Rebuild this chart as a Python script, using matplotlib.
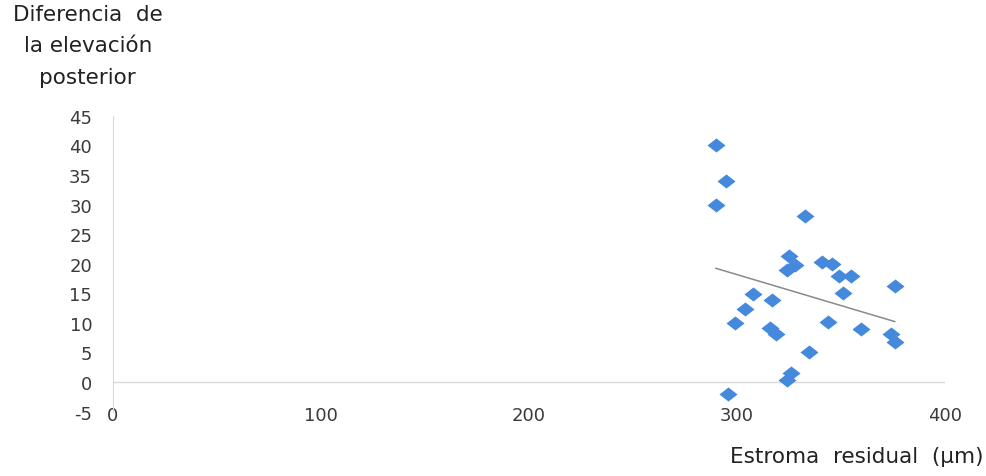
import numpy as np
import matplotlib
matplotlib.use("Agg")
import matplotlib.pyplot as plt
from matplotlib.path import Path

# Estroma residual (um) vs diferencia de la elevacion posterior
estroma = [290, 295, 290, 333, 325, 324, 328, 341, 346, 349, 355, 376, 351, 308,
           317, 304, 299, 344, 360, 316, 319, 374, 376, 335, 326, 324, 296]
diferencia = [40, 34, 30, 28, 21.3, 19, 19.8, 20.3, 20, 18, 18, 16.3, 15.1, 14.8,
              13.8, 12.4, 10, 10.1, 9, 9.1, 8.1, 8.1, 6.7, 5.1, 1.6, 0.4, -2]
x_ticks = [0, 100, 200, 300, 400]
y_ticks = [-5, 0, 5, 10, 15, 20, 25, 30, 35, 40, 45]

plt.rcParams['font.family'] = ['DejaVu Sans']
plt.rcParams['axes.unicode_minus'] = False

fig = plt.figure(figsize=(9.86, 4.77), dpi=100)
ax = fig.add_axes([0.1146, 0.135, 0.8434, 0.62])

# diamond a bit wider than tall, like the original
diamond = Path([(-1, 0), (0, 0.78), (1, 0), (0, -0.78), (-1, 0)],
               [Path.MOVETO, Path.LINETO, Path.LINETO, Path.LINETO, Path.CLOSEPOLY])
ax.plot(estroma, diferencia, linestyle='none', marker=diamond, markersize=13,
        color='#4589dc', markeredgewidth=0, zorder=3)

# linear trendline
coef = np.polyfit(estroma, diferencia, 1)
xs = np.array([min(estroma), max(estroma)])
ax.plot(xs, np.polyval(coef, xs), color='#8a8a8a', linewidth=1.1, zorder=2)

ax.axhline(0, color='#d9d9d9', linewidth=1, zorder=1)
ax.set_xlim(0, 400)
ax.set_ylim(-5, 45)
ax.set_xticks(x_ticks)
ax.set_yticks(y_ticks)
ax.tick_params(length=0, labelsize=13, colors='#3a3a3a')
ax.tick_params(axis='y', pad=15)
ax.tick_params(axis='x', pad=-4)
for s in ['top', 'right', 'bottom']:
    ax.spines[s].set_visible(False)
ax.spines['left'].set_color('#d9d9d9')

fig.text(0.089, 0.99, "Diferencia  de\nla elevación\nposterior", ha='center', va='top',
         fontsize=15.5, color='#222222', linespacing=1.72)
fig.text(0.997, 0.02, "Estroma  residual  (µm)", ha='right', va='bottom',
         fontsize=15.5, color='#222222')

fig.savefig("out.png", dpi=100)
